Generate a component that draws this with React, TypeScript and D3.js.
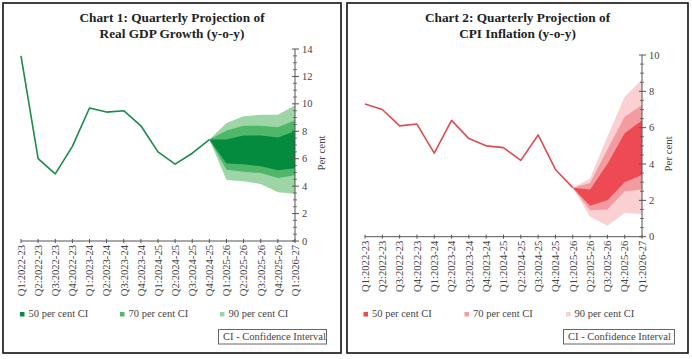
import React from "react";
import * as d3 from "d3";

const categories = [
  "Q1:2022-23", "Q2:2022-23", "Q3:2022-23", "Q4:2022-23",
  "Q1:2023-24", "Q2:2023-24", "Q3:2023-24", "Q4:2023-24",
  "Q1:2024-25", "Q2:2024-25", "Q3:2024-25", "Q4:2024-25",
  "Q1:2025-26", "Q2:2025-26", "Q3:2025-26", "Q4:2025-26", "Q1:2026-27",
];

const gdpActual = [13.5, 6.0, 4.9, 6.9, 9.7, 9.4, 9.5, 8.4, 6.5, 5.6, 6.4, 7.4];
const gdpFanStart = 11;
const gdp90Upper = [7.4, 8.6, 9.1, 9.2, 9.2, 9.9];
const gdp70Upper = [7.4, 8.05, 8.4, 8.4, 8.3, 8.8];
const gdp50Upper = [7.4, 7.4, 7.7, 7.7, 7.55, 8.0];
const gdp50Lower = [7.4, 5.65, 5.6, 5.45, 5.15, 5.3];
const gdp70Lower = [7.4, 5.2, 5.05, 4.95, 4.6, 4.8];
const gdp90Lower = [7.4, 4.45, 4.35, 4.15, 3.55, 3.45];
const gdpTicks = [0, 2, 4, 6, 8, 10, 12, 14];

const cpiActual = [7.3, 7.0, 6.1, 6.2, 4.6, 6.4, 5.4, 5.0, 4.9, 4.2, 5.6, 3.7, 2.7];
const cpiFanStart = 12;
const cpi90Upper = [2.7, 3.2, 5.5, 7.7, 8.65];
const cpi70Upper = [2.7, 2.95, 4.8, 6.6, 7.25];
const cpi50Upper = [2.7, 2.6, 4.0, 5.7, 6.4];
const cpi50Lower = [2.7, 1.7, 2.0, 3.0, 3.4];
const cpi70Lower = [2.7, 1.45, 1.5, 2.5, 2.6];
const cpi90Lower = [2.7, 1.1, 0.6, 1.3, 1.25];
const cpiTicks = [0, 2, 4, 6, 8, 10];

const legendLabels = ["50 per cent CI", "70 per cent CI", "90 per cent CI"];

type PanelProps = {
  left: number; right: number; top: number; bottom: number;
  x0: number; x1: number; yTop: number; yBottom: number;
  ticks: number[];
  title1: string; title2: string;
  actual: number[]; fanStart: number;
  bands: [number[], number[]][];
  colors: string[]; lineColor: string;
  legendX: number[]; ciBox: [number, number];
};

function Panel(p: PanelProps) {
  const yMax = p.ticks[p.ticks.length - 1];
  const x = d3.scalePoint<string>().domain(categories).range([p.x0, p.x1]);
  const y = d3.scaleLinear().domain([0, yMax]).range([p.yBottom, p.yTop]);
  const cx = (p.left + p.right) / 2;
  const line = d3.line<number>().x((_, i) => x(categories[i])!).y((d) => y(d));
  const minor = d3.range(0, yMax + 0.001, 0.5).filter((v) => !p.ticks.includes(v));
  const axisColor = "#555";
  const serif = "'Liberation Serif', 'Times New Roman', serif";
  return (
    <g>
      <rect x={p.left} y={p.top} width={p.right - p.left} height={p.bottom - p.top}
        fill="#fff" stroke="#111" strokeWidth={1.6} />
      <text x={cx} y={22} textAnchor="middle" fontFamily={serif} fontWeight="bold"
        fontSize={13.3} fill="#222">{p.title1}</text>
      <text x={cx} y={38} textAnchor="middle" fontFamily={serif} fontWeight="bold"
        fontSize={13.3} fill="#222">{p.title2}</text>
      {p.bands.map(([up, lo], bi) => {
        const area = d3.area<number>()
          .x((_, i) => x(categories[p.fanStart + i])!)
          .y0((_, i) => y(lo[i]))
          .y1((d) => y(d));
        return <path key={bi} d={area(up)!} fill={p.colors[bi]} stroke="none" />;
      })}
      <path d={line(p.actual)!} fill="none" stroke={p.lineColor} strokeWidth={1.6}
        strokeLinejoin="round" />
      {/* y axis */}
      <line x1={p.x1} x2={p.x1} y1={y(yMax)} y2={y(0)} stroke={axisColor} strokeWidth={1} />
      {p.ticks.map((t) => (
        <g key={t}>
          <line x1={p.x1 - 3} x2={p.x1 + 4} y1={y(t)} y2={y(t)} stroke={axisColor} strokeWidth={1} />
          <text x={p.x1 + 7} y={y(t) + 3.5} fontFamily={serif} fontSize={10.5} fill="#444">{t}</text>
        </g>
      ))}
      {minor.map((t) => (
        <line key={"m" + t} x1={p.x1 - 2} x2={p.x1 + 2} y1={y(t)} y2={y(t)} stroke={axisColor} strokeWidth={0.8} />
      ))}
      <text transform={`translate(${p.x1 + 30},${(p.yTop + p.yBottom) / 2 + 8}) rotate(-90)`}
        textAnchor="middle" fontFamily={serif} fontSize={10.8} fill="#444">Per cent</text>
      {/* x axis */}
      <line x1={p.x0} x2={p.x1} y1={y(0)} y2={y(0)} stroke={axisColor} strokeWidth={1} />
      {categories.map((c) => (
        <g key={c}>
          <line x1={x(c)!} x2={x(c)!} y1={y(0) - 2} y2={y(0) + 2} stroke={axisColor} strokeWidth={1} />
          <text transform={`translate(${x(c)! + 3.8},${y(0) + 4}) rotate(-90)`} textAnchor="end"
            fontFamily={serif} fontSize={10.6} fill="#444">{c}</text>
        </g>
      ))}
      {/* legend */}
      {legendLabels.map((l, i) => (
        <g key={l}>
          <rect x={p.legendX[i]} y={312} width={4.5} height={4.5} fill={p.colors[2 - i]} />
          <text x={p.legendX[i] + 8.5} y={317} fontFamily={serif} fontSize={10.5} fill="#444">{l}</text>
        </g>
      ))}
      <rect x={p.ciBox[0]} y={329.5} width={p.ciBox[1] - p.ciBox[0]} height={14.5}
        fill="#fff" stroke="#666" strokeWidth={1} />
      <text x={p.ciBox[0] + 4.5} y={340.3} fontFamily={serif} fontSize={10.5} fill="#444">
        CI - Confidence Interval
      </text>
    </g>
  );
}

export default function App() {
  return (
    <svg width={692} height={359} style={{ position: "absolute", left: 0, top: 0, background: "#fff" }}>
      <rect x={0} y={0} width={692} height={359} fill="#fff" />
      <Panel left={3} right={341} top={3} bottom={353}
        x0={21} x1={295} yTop={49} yBottom={241} ticks={gdpTicks}
        title1="Chart 1: Quarterly Projection of" title2="Real GDP Growth (y-o-y)"
        actual={gdpActual} fanStart={gdpFanStart}
        bands={[[gdp90Upper, gdp90Lower], [gdp70Upper, gdp70Lower], [gdp50Upper, gdp50Lower]]}
        colors={["#9dd5a6", "#4fb769", "#058b3e"]} lineColor="#1c8a4c"
        legendX={[20, 120, 220]} ciBox={[218.5, 326.5]} />
      <Panel left={347} right={688} top={3} bottom={353}
        x0={365} x1={642} yTop={55} yBottom={236.7} ticks={cpiTicks}
        title1="Chart 2: Quarterly Projection of" title2="CPI Inflation (y-o-y)"
        actual={cpiActual} fanStart={cpiFanStart}
        bands={[[cpi90Upper, cpi90Lower], [cpi70Upper, cpi70Lower], [cpi50Upper, cpi50Lower]]}
        colors={["#fad0d2", "#f39b9f", "#ee4a54"]} lineColor="#df4b50"
        legendX={[363.5, 464.5, 566]} ciBox={[563.5, 674.5]} />
    </svg>
  );
}
